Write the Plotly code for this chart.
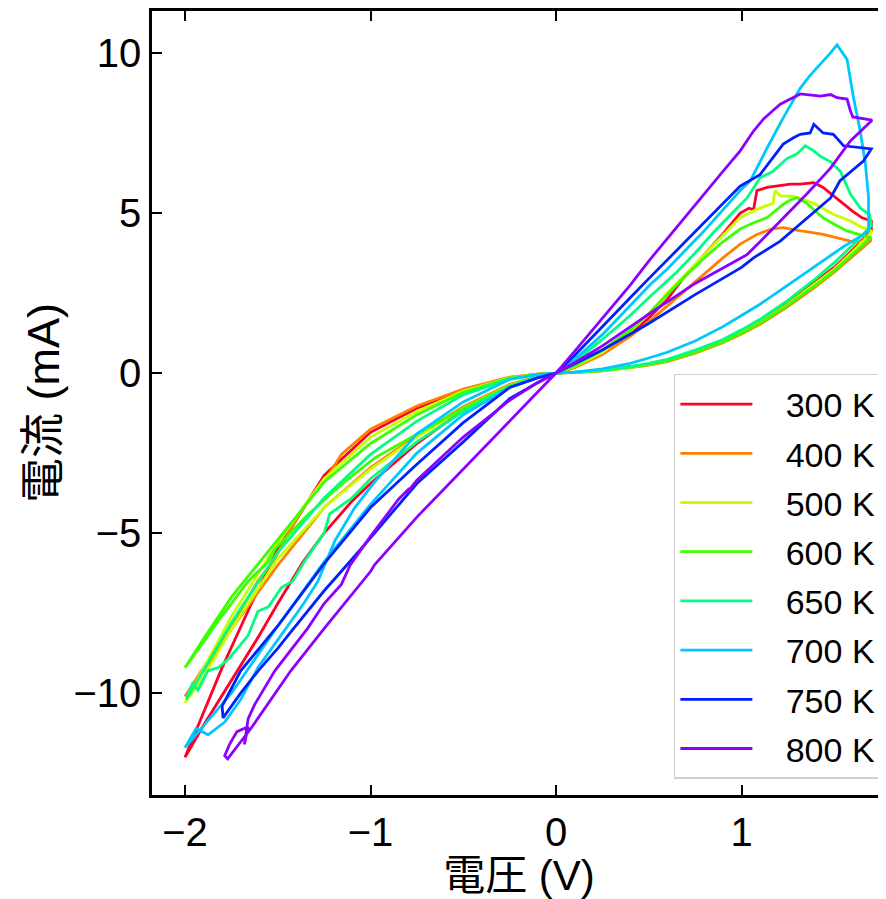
import plotly.graph_objects as go

# ---------------- data ----------------
temps = ["300 K", "400 K", "500 K", "600 K", "650 K", "700 K", "750 K", "800 K"]
colors = ["#ff0029", "#ff8000", "#c8ff00", "#3cff00", "#00ff80", "#00c8ff", "#0020ff", "#8c00ff"]

# each loop: positive low branch, positive high branch, negative branch A, negative branch B
v300 = ([0, 0.1, 0.25, 0.4, 0.5, 0.6, 0.75, 0.9, 1.0, 1.1, 1.25, 1.4, 1.5, 1.6, 1.70]
        + [1.70, 1.65, 1.60, 1.53, 1.48, 1.44, 1.39, 1.35, 1.317, 1.263, 1.21, 1.138, 1.083, 1.065, 1.04, 0.993, 0.9, 0.8, 0.687, 0.6, 0.5, 0.4, 0.25, 0.1, 0]
        + [-0.1, -0.25, -0.5, -0.75, -1.0, -1.25, -1.5, -1.65, -1.8, -2.0]
        + [-1.9, -1.75, -1.6, -1.5, -1.364, -1.25, -1.1, -1.0, -0.75, -0.5, -0.25, -0.1, 0])
i300 = ([0, 0.02, 0.08, 0.19, 0.28, 0.4, 0.68, 1.0, 1.3, 1.62, 2.2, 2.85, 3.3, 3.85, 4.45]
        + [4.75, 4.85, 5.05, 5.37, 5.59, 5.8, 5.95, 5.92, 5.9, 5.9, 5.85, 5.8, 5.7, 5.1, 5.15, 5.0, 4.35, 3.7, 2.97, 2.3, 1.72, 1.2, 0.6, 0.18, 0]
        + [-0.03, -0.15, -0.55, -1.1, -1.85, -3.2, -5.5, -7.3, -9.2, -12.0]
        + [-11.0, -9.6, -8.2, -7.2, -5.9, -5.0, -4.0, -3.45, -2.2, -1.15, -0.4, -0.12, 0])

v400 = ([0, 0.1, 0.25, 0.4, 0.5, 0.6, 0.75, 0.9, 1.0, 1.1, 1.25, 1.4, 1.5, 1.6, 1.70]
        + [1.676, 1.65, 1.587, 1.53, 1.44, 1.35, 1.317, 1.225, 1.16, 1.083, 0.993, 0.9, 0.8, 0.7, 0.6, 0.5, 0.4, 0.25, 0.1, 0]
        + [-0.1, -0.25, -0.5, -0.75, -1.0, -1.157, -1.247, -1.337, -1.426, -1.516, -1.607, -1.75, -1.9, -2.0]
        + [-1.9, -1.75, -1.6, -1.5, -1.25, -1.0, -0.75, -0.5, -0.25, -0.1, 0])
i400 = ([0, 0.02, 0.07, 0.17, 0.25, 0.36, 0.62, 0.95, 1.22, 1.52, 2.08, 2.7, 3.15, 3.65, 4.15]
        + [4.18, 4.08, 4.12, 4.2, 4.33, 4.42, 4.44, 4.54, 4.5, 4.33, 4.03, 3.6, 3.1, 2.62, 2.1, 1.6, 1.15, 0.58, 0.17, 0]
        + [-0.03, -0.13, -0.5, -1.03, -1.75, -2.54, -3.375, -4.0, -4.83, -5.8, -6.5, -7.9, -9.2, -10.1]
        + [-9.3, -8.0, -6.8, -6.0, -4.2, -2.95, -1.95, -1.05, -0.35, -0.1, 0])

v500 = ([0, 0.1, 0.25, 0.4, 0.5, 0.6, 0.75, 0.9, 1.0, 1.1, 1.25, 1.4, 1.5, 1.6, 1.70]
        + [1.70, 1.65, 1.587, 1.495, 1.39, 1.28, 1.21, 1.18, 1.17, 1.1, 0.993, 0.9, 0.8, 0.7, 0.6, 0.5, 0.4, 0.25, 0.1, 0]
        + [-0.1, -0.25, -0.5, -0.75, -1.0, -1.25, -1.5, -1.75, -1.9, -2.0]
        + [-1.9, -1.75, -1.5, -1.25, -1.0, -0.75, -0.5, -0.25, -0.1, 0])
i500 = ([0, 0.02, 0.08, 0.18, 0.27, 0.39, 0.66, 0.98, 1.27, 1.58, 2.15, 2.8, 3.25, 3.8, 4.4]
        + [4.44, 4.55, 4.75, 4.96, 5.3, 5.53, 5.53, 5.7, 5.3, 5.16, 4.86, 4.3, 3.7, 3.1, 2.5, 1.85, 1.3, 0.65, 0.2, 0]
        + [-0.04, -0.15, -0.56, -1.2, -2.0, -3.3, -5.3, -7.6, -9.2, -10.3]
        + [-9.5, -8.0, -5.8, -4.2, -3.0, -2.0, -1.1, -0.38, -0.1, 0])

v600 = ([0, 0.1, 0.25, 0.4, 0.5, 0.6, 0.75, 0.9, 1.0, 1.1, 1.25, 1.4, 1.5, 1.6, 1.70]
        + [1.70, 1.65, 1.569, 1.5, 1.44, 1.39, 1.353, 1.3, 1.26, 1.225, 1.18, 1.138, 1.047, 0.993, 0.9, 0.8, 0.7, 0.6, 0.5, 0.4, 0.25, 0.1, 0]
        + [-0.1, -0.25, -0.5, -0.75, -1.0, -1.25, -1.5, -1.75, -1.9, -2.0]
        + [-1.9, -1.822, -1.75, -1.66, -1.553, -1.516, -1.337, -1.157, -0.977, -0.75, -0.5, -0.25, -0.1, 0])
i600 = ([0, 0.02, 0.08, 0.18, 0.27, 0.38, 0.65, 0.97, 1.25, 1.56, 2.12, 2.75, 3.2, 3.72, 4.23]
        + [4.23, 4.3, 4.44, 4.65, 4.85, 5.1, 5.3, 5.48, 5.4, 5.27, 5.05, 4.86, 4.65, 4.5, 4.1, 3.6, 3.05, 2.45, 1.85, 1.35, 0.72, 0.22, 0]
        + [-0.04, -0.16, -0.6, -1.3, -2.2, -3.4, -5.2, -7.0, -8.3, -9.2]
        + [-8.4, -7.75, -7.2, -6.5, -5.9, -5.5, -4.42, -3.48, -2.65, -1.9, -1.1, -0.4, -0.1, 0])

v650 = ([0, 0.1, 0.25, 0.4, 0.5, 0.6, 0.75, 0.9, 1.0, 1.1, 1.25, 1.4, 1.5, 1.6, 1.70]
        + [1.69, 1.64, 1.587, 1.533, 1.48, 1.425, 1.39, 1.344, 1.3, 1.245, 1.17, 1.1, 1.03, 0.95, 0.85, 0.75, 0.65, 0.5, 0.4, 0.25, 0.1, 0]
        + [-0.1, -0.25, -0.5, -0.75, -1.0, -1.25, -1.5, -1.75, -1.9, -1.993]
        + [-1.96, -1.93, -1.877, -1.82, -1.76, -1.716, -1.66, -1.607, -1.55, -1.48, -1.42, -1.355, -1.25, -1.22, -1.1, -1.0, -0.85, -0.75, -0.5, -0.25, -0.1, 0])
i650 = ([0, 0.02, 0.09, 0.2, 0.3, 0.43, 0.72, 1.05, 1.35, 1.68, 2.27, 2.95, 3.45, 4.0, 4.6]
        + [4.95, 5.16, 5.59, 6.3, 6.6, 6.77, 6.94, 7.1, 6.85, 6.7, 6.3, 6.1, 5.47, 5.0, 4.4, 3.75, 3.15, 2.35, 1.8, 1.05, 0.35, 0]
        + [-0.05, -0.18, -0.68, -1.5, -2.54, -3.9, -5.6, -7.8, -9.3, -10.2]
        + [-9.7, -9.9, -9.3, -9.2, -8.9, -8.6, -8.2, -7.44, -7.3, -6.7, -6.5, -5.875, -5.0, -4.4, -3.9, -3.3, -2.6, -2.15, -1.2, -0.42, -0.12, 0])

v700 = ([0, 0.1, 0.25, 0.4, 0.5, 0.6, 0.75, 0.9, 1.0, 1.1, 1.25, 1.44, 1.55, 1.65, 1.685]
        + [1.685, 1.668, 1.64, 1.604, 1.569, 1.515, 1.48, 1.425, 1.37, 1.317, 1.225, 1.138, 1.047, 0.993, 0.9, 0.8, 0.7, 0.6, 0.507, 0.4, 0.25, 0.1, 0]
        + [-0.1, -0.25, -0.5, -0.75, -0.977, -1.085, -1.193, -1.283, -1.36, -1.46, -1.607, -1.7, -1.786, -1.876, -1.94, -2.0]
        + [-1.75, -1.5, -1.25, -1.0, -0.75, -0.5, -0.25, -0.1, 0])
i700 = ([0, 0.03, 0.13, 0.3, 0.47, 0.65, 1.0, 1.45, 1.8, 2.15, 2.75, 3.5, 3.95, 4.3, 4.44]
        + [5.47, 6.53, 7.56, 8.6, 9.8, 10.25, 10.0, 9.65, 9.3, 8.9, 7.97, 7.03, 6.0, 5.7, 5.1, 4.45, 3.85, 3.25, 2.76, 2.1, 1.2, 0.42, 0]
        + [-0.05, -0.2, -0.9, -1.9, -3.4, -4.2, -5.25, -6.5, -7.2, -8.0, -9.2, -10.2, -10.9, -11.3, -11.1, -11.7]
        + [-10.0, -7.9, -5.9, -4.1, -2.5, -1.3, -0.45, -0.15, 0])

v750 = ([0, 0.1, 0.25, 0.5, 0.75, 1.0, 1.065, 1.209, 1.353, 1.48, 1.53, 1.657, 1.70]
        + [1.657, 1.6, 1.55, 1.495, 1.44, 1.39, 1.37, 1.317, 1.28, 1.225, 1.17, 1.1, 0.993, 0.9, 0.8, 0.7, 0.6, 0.5, 0.4, 0.25, 0.1, 0]
        + [-0.1, -0.25, -0.5, -0.75, -1.0, -1.25, -1.5, -1.7, -1.8]
        + [-1.795, -1.7, -1.607, -1.5, -1.426, -1.25, -1.157, -1.0, -0.75, -0.5, -0.25, -0.1, 0])
i750 = ([0, 0.28, 0.72, 1.55, 2.45, 3.3, 3.6, 4.12, 4.84, 5.47, 6.0, 6.62, 7.0]
        + [7.03, 7.05, 7.1, 7.46, 7.5, 7.77, 7.5, 7.46, 7.35, 7.15, 6.73, 6.2, 5.84, 5.3, 4.72, 4.12, 3.54, 2.95, 2.35, 1.45, 0.55, 0]
        + [-0.15, -0.45, -1.55, -2.85, -4.2, -5.95, -7.9, -9.3, -10.4]
        + [-10.77, -10.0, -9.31, -8.6, -8.06, -6.8, -6.19, -5.15, -3.45, -2.15, -0.8, -0.3, 0])

v800 = ([0, 0.1, 0.25, 0.5, 0.75, 1.0, 1.03, 1.10, 1.225, 1.353, 1.48, 1.587, 1.704]
        + [1.64, 1.60, 1.587, 1.569, 1.515, 1.48, 1.425, 1.353, 1.317, 1.263, 1.209, 1.17, 1.119, 1.065, 0.993, 0.9, 0.8, 0.7, 0.6, 0.5, 0.4, 0.25, 0.1, 0]
        + [-0.1, -0.25, -0.5, -0.75, -0.806, -0.79, -0.85, -1.0, -1.11, -1.157, -1.25, -1.337, -1.516, -1.624, -1.66, -1.68, -1.66, -1.72, -1.76, -1.786, -1.77]
        + [-1.642, -1.43, -1.247, -1.0, -0.977, -0.75, -0.5, -0.25, -0.1, 0])
i800 = ([0, 0.32, 0.85, 1.84, 2.8, 3.6, 3.7, 4.1, 4.84, 5.6, 6.4, 7.25, 7.9]
        + [7.97, 8.0, 8.19, 8.56, 8.6, 8.7, 8.65, 8.69, 8.72, 8.56, 8.4, 8.2, 7.94, 7.56, 6.94, 6.3, 5.6, 4.9, 4.2, 3.5, 2.75, 1.7, 0.68, 0]
        + [-0.3, -0.85, -2.0, -3.35, -3.75, -3.6, -3.95, -5.1, -6.0, -6.6, -7.2, -7.96, -9.3, -10.35, -10.8, -11.6, -11.05, -11.2, -11.6, -11.95, -12.05]
        + [-11.08, -9.3, -7.96, -6.2, -5.98, -4.5, -3.0, -1.5, -0.6, 0])

voltages = [v300, v400, v500, v600, v650, v700, v750, v800]
currents = [i300, i400, i500, i600, i650, i700, i750, i800]

x_ticks = [-2, -1, 0, 1]
y_ticks = [-10, -5, 0, 5, 10]
x_title = "電圧 (V)"
y_title = "電流 (mA)"

# ---------------- figure ----------------
FONT = "Liberation Sans, Arial, 'Noto Sans CJK JP', sans-serif"
PAD = "\u00a0\u00a0\u00a0"   # gap between legend line sample and its label

fig = go.Figure()
for name, col, vv, ii in zip(temps, colors, voltages, currents):
    fig.add_trace(go.Scatter(x=vv, y=ii, mode="lines", name=PAD + name, legendgroup=name,
                             line=dict(color=col, width=2.8)))

# the page body adds an 8 px offset, so the figure is 8 px smaller than the window
fig.update_layout(
    width=878, height=891,
    margin=dict(l=144, r=0, t=1, b=104),
    paper_bgcolor="white", plot_bgcolor="white",
    font=dict(family=FONT, color="black"),
    showlegend=True,
    legend=dict(x=0.711, y=0.537, xanchor="left", yanchor="top",
                bgcolor="white", bordercolor="#d0d0d0", borderwidth=1.5,
                font=dict(size=34, family=FONT), itemwidth=72, tracegroupgap=2),
)
fig.update_xaxes(range=[-2.178, 1.779], tickvals=x_ticks, ticks="inside", ticklen=10, tickwidth=2,
                 tickcolor="black", showline=True, linewidth=2.5, linecolor="black", mirror="ticks",
                 showgrid=False, zeroline=False, tickfont=dict(size=40),
                 title=dict(text=x_title, font=dict(size=42), standoff=9))
fig.update_yaxes(range=[-13.18, 11.31], tickvals=y_ticks, ticks="inside", ticklen=10, tickwidth=2,
                 tickcolor="black", showline=True, linewidth=2.5, linecolor="black", mirror=False,
                 showgrid=False, zeroline=False, tickfont=dict(size=40),
                 title=dict(text=y_title, font=dict(size=45), standoff=0))

fig.write_html("out.html")
